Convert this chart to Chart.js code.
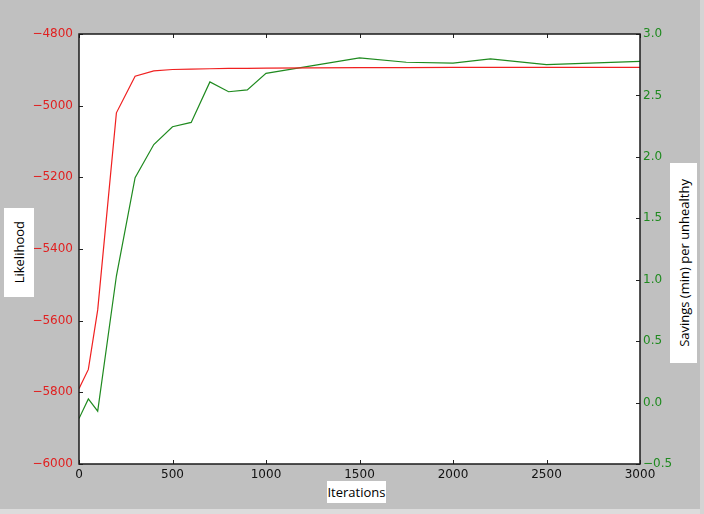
<!DOCTYPE html>
<html>
<head>
<meta charset="utf-8">
<script src="https://cdn.jsdelivr.net/npm/chart.js@4.4.1/dist/chart.umd.min.js"></script>
<style>
  html, body { margin:0; padding:0; }
  body { width:704px; height:514px; background:#c0c0c0; position:relative; overflow:hidden; }
  #wrap { position:absolute; left:0; top:0; width:704px; height:514px; }
  .box { position:absolute; background:#fff; font-family:"Open Sans", sans-serif; font-size:13px; color:#000; display:flex; align-items:center; justify-content:center; }
  .vt { writing-mode: vertical-rl; transform: rotate(180deg); white-space:nowrap; }
  #stripB { position:absolute; left:0; top:509px; width:704px; height:5px; background:#dcdcdc; }
  #stripR { position:absolute; left:700px; top:0; width:4px; height:514px; background:#d4d4d4; }
</style>
</head>
<body>
<div id="wrap"><canvas id="c" width="704" height="514"></canvas></div>
<div id="stripB"></div>
<div id="stripR"></div>
<div class="box" style="left:4px;top:208px;width:30px;height:89px;"><span class="vt">Likelihood</span></div>
<div class="box" style="left:670px;top:163px;width:27px;height:200px;"><span class="vt">Savings (min) per unhealthy</span></div>
<div class="box" style="left:327px;top:481px;width:59px;height:22px;"><span>Iterations</span></div>
<script>
const iterations = [0, 50, 100, 200, 300, 400, 500, 600, 700, 800, 900, 1000, 1500, 1750, 2000, 2200, 2500, 3000];
const likelihood = [-5790, -5736, -5570, -5020, -4918, -4903, -4899, -4898, -4897, -4896, -4896, -4895, -4894, -4894, -4893, -4893, -4893, -4893];
const savings = [-0.13, 0.03, -0.07, 1.03, 1.83, 2.10, 2.245, 2.28, 2.61, 2.53, 2.545, 2.68, 2.805, 2.77, 2.763, 2.797, 2.75, 2.777];
const xTicks = [0, 500, 1000, 1500, 2000, 2500, 3000];
const leftTicks = [-6000, -5800, -5600, -5400, -5200, -5000, -4800];
const rightTicks = [-0.5, 0.0, 0.5, 1.0, 1.5, 2.0, 2.5, 3.0];

const minus = s => String(s).replace('-', '\u2212');

const frame = {
  id: 'frame',
  afterDatasetsDraw(chart) {
    const {ctx, chartArea: a, scales} = chart;
    ctx.save();
    ctx.strokeStyle = '#222';
    ctx.lineWidth = 1;
    const L = 4;
    ctx.beginPath();
    xTicks.forEach(v => {
      const px = Math.round(scales.x.getPixelForValue(v)) + 0.5;
      ctx.moveTo(px, a.bottom); ctx.lineTo(px, a.bottom - L);
      ctx.moveTo(px, a.top); ctx.lineTo(px, a.top + L);
    });
    leftTicks.forEach(v => {
      const py = Math.round(scales.yL.getPixelForValue(v)) + 0.5;
      ctx.moveTo(a.left, py); ctx.lineTo(a.left + L, py);
    });
    rightTicks.forEach(v => {
      const py = Math.round(scales.yR.getPixelForValue(v)) + 0.5;
      ctx.moveTo(a.right, py); ctx.lineTo(a.right - L, py);
    });
    ctx.stroke();
    ctx.lineWidth = 1.5;
    ctx.strokeStyle = '#1a1a1a';
    ctx.strokeRect(a.left, a.top, a.right - a.left, a.bottom - a.top);
    ctx.restore();
  },
  beforeDraw(chart) {
    const {ctx, chartArea: a} = chart;
    ctx.save();
    ctx.fillStyle = '#fff';
    ctx.fillRect(a.left, a.top, a.right - a.left, a.bottom - a.top);
    ctx.restore();
  }
};

new Chart(document.getElementById('c'), {
  type: 'line',
  data: {
    datasets: [
      { label: 'Likelihood', data: iterations.map((x, i) => ({x, y: likelihood[i]})), yAxisID: 'yL',
        borderColor: '#f02020', borderWidth: 1.2, pointRadius: 0, tension: 0, fill: false },
      { label: 'Savings', data: iterations.map((x, i) => ({x, y: savings[i]})), yAxisID: 'yR',
        borderColor: '#1f8a1f', borderWidth: 1.2, pointRadius: 0, tension: 0, fill: false }
    ]
  },
  options: {
    responsive: false,
    animation: false,
    events: [],
    layout: { padding: { top: 34, left: 0, right: 0, bottom: 0 } },
    plugins: { legend: { display: false }, tooltip: { enabled: false } },
    scales: {
      x: {
        type: 'linear', min: 0, max: 3000,
        afterFit(s) { s.height = 50; },
        afterBuildTicks(s) { s.ticks = xTicks.map(v => ({value: v})); },
        grid: { display: false, drawTicks: false },
        border: { display: false },
        ticks: { color: '#111', padding: 4, maxRotation: 0, autoSkip: false,
          font: { family: 'DejaVu Sans', size: 12 }, callback: v => minus(v) }
      },
      yL: {
        type: 'linear', position: 'left', min: -6000, max: -4800,
        afterFit(s) { s.width = 79; },
        afterBuildTicks(s) { s.ticks = leftTicks.map(v => ({value: v})); },
        grid: { display: false, drawTicks: false },
        border: { display: false },
        ticks: { color: '#e02020', padding: 6, autoSkip: false,
          font: { family: 'DejaVu Sans', size: 12 }, callback: v => minus(v) }
      },
      yR: {
        type: 'linear', position: 'right', min: -0.5, max: 3.0,
        afterFit(s) { s.width = 64; },
        afterBuildTicks(s) { s.ticks = rightTicks.map(v => ({value: v})); },
        grid: { display: false, drawTicks: false },
        border: { display: false },
        ticks: { color: '#1f8a1f', padding: 3, autoSkip: false,
          font: { family: 'DejaVu Sans', size: 12 }, callback: v => minus(Number(v).toFixed(1)) }
      }
    }
  },
  plugins: [frame]
});
</script>
</body>
</html>
